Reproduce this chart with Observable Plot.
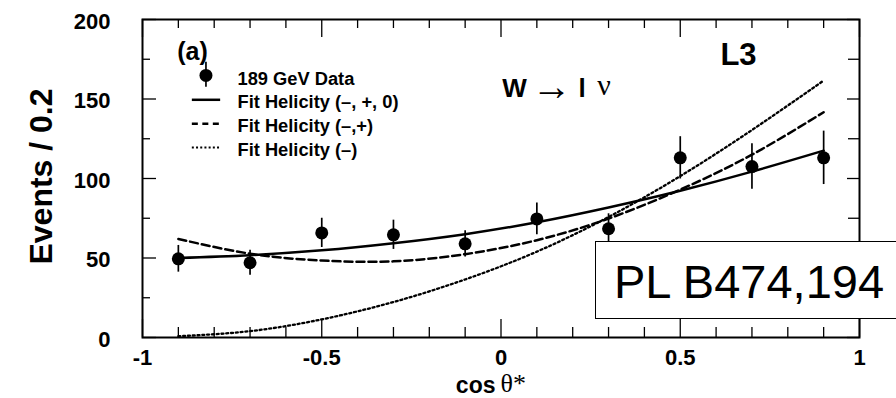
<!DOCTYPE html>
<html>
<head>
<meta charset="utf-8">
<script src="https://cdn.jsdelivr.net/npm/d3@7"></script>
<script src="https://cdn.jsdelivr.net/npm/@observablehq/plot@0.6"></script>
<style>
  html, body { margin: 0; padding: 0; background: #fff; overflow: hidden; }
  #wrap { position: relative; width: 896px; height: 398px; }
  #ref {
    position: absolute; left: 595px; top: 241px; width: 340px; height: 78px;
    box-sizing: border-box; border: 1.5px solid #000; background: #fff;
    font-family: "Liberation Sans", Arial, sans-serif; font-size: 47px;
    display: flex; align-items: center; padding-left: 18px; padding-top: 2px; color: #000;
  }
</style>
</head>
<body>
<div id="wrap"><div id="chart"></div><div id="ref">PL B474,194</div></div>
<script>
// ---- data ----
const cosBins = [-0.9, -0.7, -0.5, -0.3, -0.1, 0.1, 0.3, 0.5, 0.7, 0.9];
const counts  = [49.5, 47, 65.8, 64.6, 58.9, 74.6, 68.4, 113, 107.5, 113];
const errors  = [8.4, 7.8, 9.2, 9.2, 8.2, 10, 9.4, 13.3, 14.3, 16.8];

const fitX       = [-0.9, -0.7, -0.5, -0.3, -0.1, 0.1, 0.3, 0.5, 0.7, 0.9];
const fitFull    = [50, 51.8, 54.8, 59.3, 65, 72.5, 81.8, 92.3, 104.3, 117.5];   // (−,+,0)
const fitLR      = [62, 52.7, 48.4, 47.9, 52.4, 61.2, 74.8, 93, 115, 141.7];      // (−,+)
const fitL       = [0.8, 4, 11.4, 22.3, 36.5, 54, 75.8, 101.5, 130.5, 161.6];     // (−)

const xMajor = [-1, -0.5, 0, 0.5, 1];
const xMinor = [-0.9, -0.8, -0.7, -0.6, -0.4, -0.3, -0.2, -0.1, 0.1, 0.2, 0.3, 0.4, 0.6, 0.7, 0.8, 0.9];
const yMajor = [0, 50, 100, 150, 200];
const yMinor = [25, 75, 125, 175];

const legendLabels = ["189 GeV Data", "Fit Helicity (\u2013, +, 0)", "Fit Helicity (\u2013,+)", "Fit Helicity (\u2013)"];

// ---- layout ----
const W = 896, H = 398, mL = 142, mR = 37, mT = 19, mB = 61;
const fw = W - mL - mR, fh = H - mT - mB;
const sans = "Liberation Sans, Arial, Helvetica, sans-serif";
const serif = "Liberation Serif, DejaVu Serif, serif";

// legend placement (in chart coordinates)
const legX1 = -0.861, legX2 = -0.782, legDotX = -0.823, legTextX = -0.735;
const legTextY = [162.7, 147.8, 132.7, 117.6];
const legLineY = [149.5, 134.4, 119.5];
const legDotY = 164.8, legBarLo = 157.4, legBarHi = 173.1;

const pts = cosBins.map((x, i) => ({x, y: counts[i], lo: counts[i] - errors[i], hi: counts[i] + errors[i]}));
const rows = arr => fitX.map((x, i) => ({x, y: arr[i]}));

const bold = {fontFamily: sans, fontWeight: "bold", fill: "black"};
const dotted = {strokeWidth: 2.3, strokeDasharray: "2,2.8"};
const dashed = {strokeWidth: 2.5, strokeDasharray: "8,4"};
const ann = {frameAnchor: "top-left", lineAnchor: "middle"};

const chart = Plot.plot({
  width: W, height: H,
  marginLeft: mL, marginRight: mR, marginTop: mT, marginBottom: mB,
  style: {background: "white", fontFamily: sans, overflow: "visible"},
  x: {domain: [-1, 1]},
  y: {domain: [0, 200]},
  marks: [
    // inward ticks
    Plot.ruleX(xMajor, {insetTop: fh - 18, strokeWidth: 1.3}),
    Plot.ruleX(xMinor, {insetTop: fh - 10, strokeWidth: 1.3}),
    Plot.ruleX(xMajor, {insetBottom: fh - 18, strokeWidth: 1.3}),
    Plot.ruleX(xMinor, {insetBottom: fh - 9, strokeWidth: 1.3}),
    Plot.ruleY(yMajor, {insetRight: fw - 14, strokeWidth: 1.3}),
    Plot.ruleY(yMinor, {insetRight: fw - 8, strokeWidth: 1.3}),
    Plot.ruleY(yMajor, {insetLeft: fw - 12, strokeWidth: 1.3}),
    Plot.ruleY(yMinor, {insetLeft: fw - 11, strokeWidth: 1.3}),
    // tick labels
    Plot.axisX(xMajor, {tickSize: 0, tickPadding: 12, tickFormat: d => String(d), label: null, fontSize: 22, ...bold}),
    Plot.axisY(yMajor, {tickSize: 0, tickPadding: 32, dy: 2, tickFormat: d => String(d), label: null, fontSize: 22, ...bold}),
    // fits
    Plot.line(rows(fitL), {x: "x", y: "y", curve: "natural", ...dotted}),
    Plot.line(rows(fitLR), {x: "x", y: "y", curve: "natural", ...dashed}),
    Plot.line(rows(fitFull), {x: "x", y: "y", curve: "natural", strokeWidth: 2.5}),
    // data
    Plot.ruleX(pts, {x: "x", y1: "lo", y2: "hi", strokeWidth: 1.7}),
    Plot.dot(pts, {x: "x", y: "y", r: 6.5, fill: "black", stroke: null}),
    // legend
    Plot.ruleX([legDotX], {y1: legBarLo, y2: legBarHi, strokeWidth: 1.7}),
    Plot.dot([legDotX], {x: d => d, y: legDotY, r: 6.5, fill: "black", stroke: null}),
    Plot.ruleY([legLineY[0]], {x1: legX1, x2: legX2, strokeWidth: 2.5}),
    Plot.ruleY([legLineY[1]], {x1: legX1, x2: legX2, strokeWidth: 2.4, strokeDasharray: "6,4.5"}),
    Plot.ruleY([legLineY[2]], {x1: legX1, x2: legX2, strokeWidth: 2.2, strokeDasharray: "2,2.2"}),
    Plot.text(legendLabels, {x: legTextX, y: (d, i) => legTextY[i], text: d => d, textAnchor: "start", lineAnchor: "middle", fontSize: 18.3, ...bold}),
    // annotations
    Plot.text(["(a)"], {...ann, dx: 34.7, dy: 32.5, textAnchor: "start", fontSize: 25, ...bold}),
    Plot.text(["W"], {...ann, dx: 359.7, dy: 69, textAnchor: "start", fontSize: 26, ...bold}),
    Plot.text(["\u2192"], {...ann, dx: 409, dy: 68, textAnchor: "middle", fontSize: 40, fontFamily: serif, fill: "black"}),
    Plot.text(["l"], {...ann, dx: 436, dy: 69, textAnchor: "start", fontSize: 26, ...bold}),
    Plot.text(["\u03bd"], {...ann, dx: 454.7, dy: 66, textAnchor: "start", fontSize: 30, fontFamily: serif, fill: "black"}),
    Plot.text(["L3"], {...ann, dx: 596, dy: 36, textAnchor: "middle", fontSize: 31, ...bold}),
    // axis titles
    Plot.text(["Events / 0.2"], {frameAnchor: "left", textAnchor: "middle", lineAnchor: "middle", dx: -100.3, dy: -2, rotate: -90, fontSize: 32, ...bold}),
    Plot.text(["cos"], {frameAnchor: "bottom-left", lineAnchor: "middle", dx: 353, dy: 48, textAnchor: "end", fontSize: 23, ...bold}),
    Plot.text(["\u03b8*"], {frameAnchor: "bottom-left", lineAnchor: "middle", dx: 358, dy: 46, textAnchor: "start", fontSize: 26, fontFamily: serif, fill: "black"}),
    Plot.frame({strokeWidth: 2})
  ]
});
document.getElementById("chart").appendChild(chart);
</script>
</body>
</html>
